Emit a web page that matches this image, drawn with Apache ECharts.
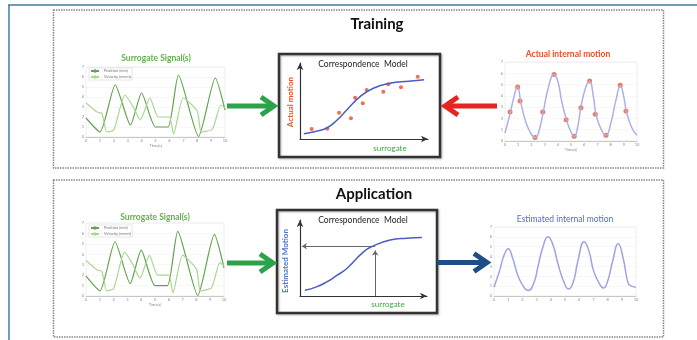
<!DOCTYPE html>
<html>
<head>
<meta charset="utf-8">
<script src="https://cdn.jsdelivr.net/npm/echarts@6/dist/echarts.min.js"></script>
<style>
  html, body { margin: 0; padding: 0; background: #fff; }
  #chart { width: 697px; height: 340px; }
</style>
</head>
<body>
<div id="chart"></div>
<script>
// surrogate signals (time s, amplitude)
const surrogateDark = [[0, 1.9], [1.0, 0.5], [2.1, 5.2], [3.2, 1.2], [4.0, 4.4], [5.0, 1.0], [5.9, 1.0],
  [6.65, 6.2], [8.1, 0.05], [9.3, 5.9], [10, 2.7]];
const surrogateLight = [[0, 3.4], [0.8, 2.5], [1.15, 2.35], [1.5, 0.5], [2.0, 0.7], [2.8, 4.2], [3.4, 3.0],
  [3.9, 1.7], [4.6, 3.9], [5.2, 2.0], [6.0, 2.0], [6.3, 0.3], [7.0, 3.9], [8.0, 2.6], [8.3, 0.5],
  [9.1, 0.8], [9.7, 3.2], [10, 2.9]];
const surrogateNames = ['Position (mm)', 'Velocity (mm/s)'];

// actual internal motion + sampled points
const actualMotion = [[0, 0.7], [0.4, 2.5], [0.7, 4.0], [0.95, 4.8], [1.2, 3.4], [1.6, 1.6], [2.0, 0.6],
  [2.3, 0.3], [2.6, 1.0], [2.9, 2.6], [3.3, 4.8], [3.7, 5.9], [4.0, 5.3], [4.3, 3.5], [4.65, 1.9],
  [5.0, 0.8], [5.25, 0.4], [5.5, 1.2], [5.75, 3.0], [6.1, 4.7], [6.4, 5.3], [6.7, 3.9], [6.9, 2.3],
  [7.3, 1.0], [7.65, 0.5], [8.0, 1.5], [8.4, 3.6], [8.75, 4.9], [9.0, 3.9], [9.2, 2.6], [9.6, 1.2], [10, 0.5]];
const actualSamples = [[0.38, 2.57], [0.96, 4.78], [1.14, 3.54], [2.28, 0.3], [2.86, 2.57], [3.72, 5.9],
  [4.63, 1.89], [5.24, 0.41], [5.75, 2.95], [6.41, 5.31], [6.84, 2.36], [7.65, 0.5], [8.73, 4.93], [9.16, 2.65]];

// estimated internal motion
const estimatedMotion = [[0, 0.9], [0.4, 2.6], [0.7, 4.1], [1.0, 4.8], [1.3, 3.9], [1.7, 2.0], [2.1, 0.9],
  [2.4, 0.55], [2.8, 1.3], [3.1, 3.0], [3.45, 5.0], [3.8, 6.0], [4.15, 5.2], [4.5, 3.3], [4.9, 1.5],
  [5.25, 0.7], [5.6, 1.5], [5.9, 3.5], [6.35, 5.5], [6.7, 4.5], [7.0, 2.6], [7.4, 1.3], [7.7, 0.8],
  [8.0, 1.5], [8.35, 3.5], [8.75, 5.3], [9.1, 3.8], [9.45, 1.3], [9.7, 1.0], [10, 0.9]];

// correspondence model (surrogate -> motion)
const modelCurveTop = [[0.3, 0.7], [1.2, 1.0], [2.09, 1.45], [2.9, 2.5], [3.65, 3.82], [4.69, 5.57],
  [5.73, 6.67], [7.03, 7.33], [8.5, 7.6], [9.7, 7.8]];
const trainingPairs = [[0.91, 1.32], [2.13, 1.36], [3.05, 3.46], [3.98, 2.72], [4.3, 5.43], [4.9, 4.7],
  [5.21, 6.45], [6.51, 6.22], [6.9, 7.2], [7.89, 6.8], [9.2, 8.2]];
const modelCurveBottom = [[0.39, 0.75], [1.3, 1.2], [2.11, 1.85], [2.9, 2.7], [3.69, 3.62], [5.0, 5.81],
  [5.79, 6.6], [7.1, 7.36], [8.4, 7.6], [9.6, 7.71]];
const readout = [5.92, 6.55]; // surrogate value, estimated motion

const FONT = 'Lato, "Liberation Sans", sans-serif';

function signalAxes(grid, ymax, withName) {
  return {
    x: {
      gridIndex: grid, type: 'value', min: 0, max: 10, interval: 1,
      axisLine: { lineStyle: { color: '#aaa', width: 0.6 } },
      axisTick: { show: false },
      axisLabel: { fontSize: 4, color: '#888', margin: 2 },
      splitLine: { show: false },
      name: withName ? 'Time(s)' : '', nameLocation: 'middle', nameGap: 6,
      nameTextStyle: { fontSize: 4, color: '#888' }
    },
    y: {
      gridIndex: grid, type: 'value', min: 0, max: ymax, interval: 1,
      axisLine: { show: false }, axisTick: { show: false },
      axisLabel: { fontSize: 4, color: '#888', margin: 2 },
      splitLine: { lineStyle: { color: '#eee', width: 0.5 } }
    }
  };
}

function modelAxes(grid) {
  const line = { lineStyle: { color: '#333', width: 1.2 }, symbol: ['none', 'arrow'], symbolSize: [5, 7] };
  return {
    x: { gridIndex: grid, type: 'value', min: 0, max: 10, axisLine: line, axisTick: { show: false },
      axisLabel: { show: false }, splitLine: { show: false } },
    y: { gridIndex: grid, type: 'value', min: 0, max: 10, axisLine: line, axisTick: { show: false },
      axisLabel: { show: false }, splitLine: { show: false } }
  };
}

const axes = [
  signalAxes(0, 7, true), modelAxes(1), signalAxes(2, 7, true),
  signalAxes(3, 7, true), modelAxes(4), signalAxes(5, 7, false)
];

function txt(x, y, text, color, font, rot) {
  return { type: 'text', x: x, y: y, rotation: rot || 0, z: 10,
    style: { text: text, fill: color, font: font, textAlign: 'center', textVerticalAlign: 'middle' } };
}

function blockArrow(x1, x2, y, color) {
  const d = x2 > x1 ? 1 : -1;
  const tip = x2 - d * 3;
  return { type: 'group', children: [
    { type: 'line', shape: { x1: x1, y1: y, x2: tip - d * 2, y2: y }, style: { stroke: color, lineWidth: 5 } },
    { type: 'polyline', shape: { points: [[tip - d * 13, y - 9], [tip, y], [tip - d * 13, y + 9]] },
      style: { stroke: color, lineWidth: 5, fill: 'none', lineJoin: 'miter' } }
  ] };
}

const frame = '#3b7fa6';
const graphic = [
  { type: 'line', shape: { x1: 8, y1: 5, x2: 697, y2: 5 }, style: { stroke: frame, lineWidth: 1.5 } },
  { type: 'line', shape: { x1: 9, y1: 5, x2: 9, y2: 340 }, style: { stroke: frame, lineWidth: 1.5 } },
  { type: 'rect', shape: { x: 53.5, y: 10, width: 610, height: 158 },
    style: { fill: 'none', stroke: '#888', lineWidth: 1.5, lineDash: [1.5, 1] } },
  { type: 'rect', shape: { x: 53.5, y: 180, width: 610, height: 157 },
    style: { fill: 'none', stroke: '#888', lineWidth: 1.5, lineDash: [1.5, 1] } },
  { type: 'rect', shape: { x: 279, y: 54, width: 161, height: 103 },
    style: { fill: 'none', stroke: '#333', lineWidth: 2.5, shadowBlur: 2, shadowColor: 'rgba(0,0,0,0.3)', shadowOffsetX: 1, shadowOffsetY: 1 } },
  { type: 'rect', shape: { x: 277, y: 210, width: 160, height: 103 },
    style: { fill: 'none', stroke: '#333', lineWidth: 2.5, shadowBlur: 2, shadowColor: 'rgba(0,0,0,0.3)', shadowOffsetX: 1, shadowOffsetY: 1 } },

  txt(377, 24, 'Training', '#111', 'bold 15px ' + FONT),
  txt(374, 194, 'Application', '#111', 'bold 15px ' + FONT),
  txt(156, 58, 'Surrogate Signal(s)', '#62b14a', 'bold 8.5px ' + FONT),
  txt(155, 217, 'Surrogate Signal(s)', '#62b14a', 'bold 8.5px ' + FONT),
  txt(568, 54, 'Actual internal motion', '#ef4b24', 'bold 8.5px ' + FONT),
  txt(565, 219, 'Estimated internal motion', '#4a72c4', '8.5px ' + FONT),
  txt(363, 64, 'Correspondence  Model', '#222', '8.5px ' + FONT),
  txt(363, 220, 'Correspondence  Model', '#222', '8.5px ' + FONT),
  txt(290, 102, 'Actual motion', '#ef4b24', 'bold 8px ' + FONT, Math.PI / 2),
  txt(285, 261, 'Estimated Motion', '#4a72c4', 'bold 8px ' + FONT, Math.PI / 2),
  txt(390, 148, 'surrogate', '#3aa83a', '8px ' + FONT),
  txt(388, 304, 'surrogate', '#3aa83a', '8px ' + FONT),

  blockArrow(227, 277, 106, '#2ca34a'),
  blockArrow(227, 276, 263, '#2ca34a'),
  blockArrow(497, 442, 106, '#e52521'),
  blockArrow(437, 490, 262.5, '#1f4e86')
];

function signalLine(name, data, color, axis) {
  return { name: name, type: 'line', xAxisIndex: axis, yAxisIndex: axis, data: data, smooth: 0.2,
    showSymbol: false, lineStyle: { color: color, width: 1.2 }, itemStyle: { color: color } };
}

const series = [
  signalLine(surrogateNames[0], surrogateDark, '#62a34f', 0),
  signalLine(surrogateNames[1], surrogateLight, '#acd693', 0),
  signalLine(surrogateNames[0], surrogateDark, '#62a34f', 3),
  signalLine(surrogateNames[1], surrogateLight, '#acd693', 3),
  { type: 'line', xAxisIndex: 1, yAxisIndex: 1, data: modelCurveTop, smooth: true, showSymbol: false,
    lineStyle: { color: '#4d5bc2', width: 1.5 } },
  { type: 'scatter', xAxisIndex: 1, yAxisIndex: 1, data: trainingPairs, symbolSize: 4,
    itemStyle: { color: '#ef4b24' } },
  { type: 'line', xAxisIndex: 2, yAxisIndex: 2, data: actualMotion, smooth: true, showSymbol: false,
    lineStyle: { color: '#aeb0e6', width: 1.5 } },
  { type: 'scatter', xAxisIndex: 2, yAxisIndex: 2, data: actualSamples, symbolSize: 5,
    itemStyle: { color: '#f2552d' } },
  { type: 'line', xAxisIndex: 4, yAxisIndex: 4, data: modelCurveBottom, smooth: true, showSymbol: false,
    lineStyle: { color: '#4d5bc2', width: 1.5 } },
  { type: 'lines', coordinateSystem: 'cartesian2d', xAxisIndex: 4, yAxisIndex: 4,
    symbol: ['none', 'arrow'], symbolSize: 5,
    lineStyle: { color: '#666', width: 1, opacity: 1 },
    data: [
      { coords: [[readout[0], readout[1]], [0.15, readout[1]]] },
      { coords: [[readout[0], 0], [readout[0], readout[1] - 0.55]] }
    ] },
  { type: 'line', xAxisIndex: 5, yAxisIndex: 5, data: estimatedMotion, smooth: true, showSymbol: false,
    lineStyle: { color: '#9ea3e3', width: 1.5 } }
];

const legendBase = {
  data: surrogateNames, orient: 'vertical', itemWidth: 8, itemHeight: 2, itemGap: 2,
  padding: 1, borderColor: '#ccc', borderWidth: 0.5,
  textStyle: { fontSize: 4, color: '#777', fontFamily: FONT }
};

const chart = echarts.init(document.getElementById('chart'));
chart.setOption({
  animation: false,
  textStyle: { fontFamily: FONT },
  grid: [
    { left: 86, top: 67, width: 139, height: 70, show: true, borderColor: '#ddd', borderWidth: 0.5 },
    { left: 300, top: 63, width: 128, height: 76 },
    { left: 505, top: 62, width: 132, height: 79, show: true, borderColor: '#ddd', borderWidth: 0.5 },
    { left: 86, top: 223, width: 138, height: 73, show: true, borderColor: '#ddd', borderWidth: 0.5 },
    { left: 300, top: 220, width: 127, height: 76 },
    { left: 494, top: 227, width: 142, height: 69, show: true, borderColor: '#ddd', borderWidth: 0.5 }
  ],
  xAxis: axes.map(a => a.x),
  yAxis: axes.map(a => a.y),
  legend: [
    Object.assign({ left: 89, top: 68 }, legendBase),
    Object.assign({ left: 89, top: 225 }, legendBase)
  ],
  graphic: graphic,
  series: series
});
</script>
</body>
</html>
